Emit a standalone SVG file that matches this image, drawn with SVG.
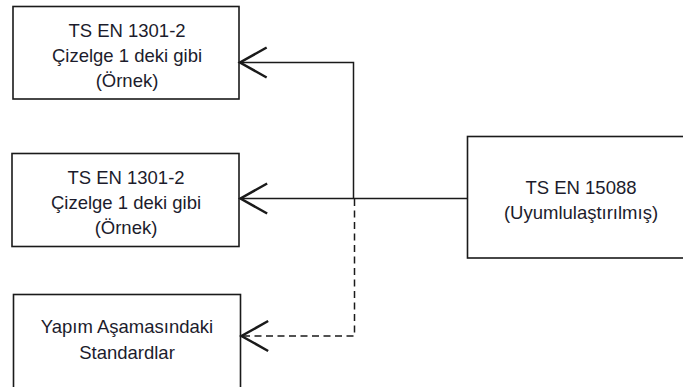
<svg xmlns="http://www.w3.org/2000/svg" width="683" height="387" viewBox="0 0 683 387">
<style>
.box{fill:#fff;stroke:#1a1a1a;stroke-width:1.6}
.lbl{font-family:"Liberation Sans",Arial,sans-serif;font-size:18.5px;fill:#1c1c2c;text-anchor:middle}
.con{fill:none;stroke:#1a1a1a;stroke-width:1.5}
.dash{stroke-dasharray:7 4.5}
</style>
<defs>
<marker id="arr" markerUnits="userSpaceOnUse" markerWidth="40" markerHeight="40" viewBox="-20 -12 24 24" refX="0" refY="0" orient="auto" overflow="visible">
<path d="M-16,-9 L0,0 L-16,9" fill="none" stroke="#1a1a1a" stroke-width="1.5"/>
</marker>
</defs>
<g id="box1">
<rect class="box" x="13" y="6.5" width="226" height="92.5"/>
<text class="lbl" x="127" y="37">TS EN 1301-2</text>
<text class="lbl" x="127" y="62">Çizelge 1 deki gibi</text>
<text class="lbl" x="127" y="87">(Örnek)</text>
</g>
<g id="box2">
<rect class="box" x="12" y="153.5" width="227" height="93"/>
<text class="lbl" x="126" y="184">TS EN 1301-2</text>
<text class="lbl" x="126" y="209">Çizelge 1 deki gibi</text>
<text class="lbl" x="126" y="234">(Örnek)</text>
</g>
<g id="box3">
<rect class="box" x="13.5" y="294.5" width="227" height="100"/>
<text class="lbl" x="127" y="333">Yapım Aşamasındaki</text>
<text class="lbl" x="127" y="359">Standardlar</text>
</g>
<g id="box4">
<rect class="box" x="467.5" y="136.5" width="227" height="121.5"/>
<text class="lbl" x="581" y="194">TS EN 15088</text>
<text class="lbl" x="581" y="219">(Uyumlulaştırılmış)</text>
</g>
<g id="connectors">
<path class="con" d="M467.5,198.5 L240.5,198.5" marker-end="url(#arr)"/>
<path class="con" d="M353.5,198.5 L353.5,62.5 L240,62.5" marker-end="url(#arr)"/>
<path class="con dash" d="M354.5,199 L354.5,336 L241.5,336" marker-end="url(#arr)"/>
</g>
</svg>
